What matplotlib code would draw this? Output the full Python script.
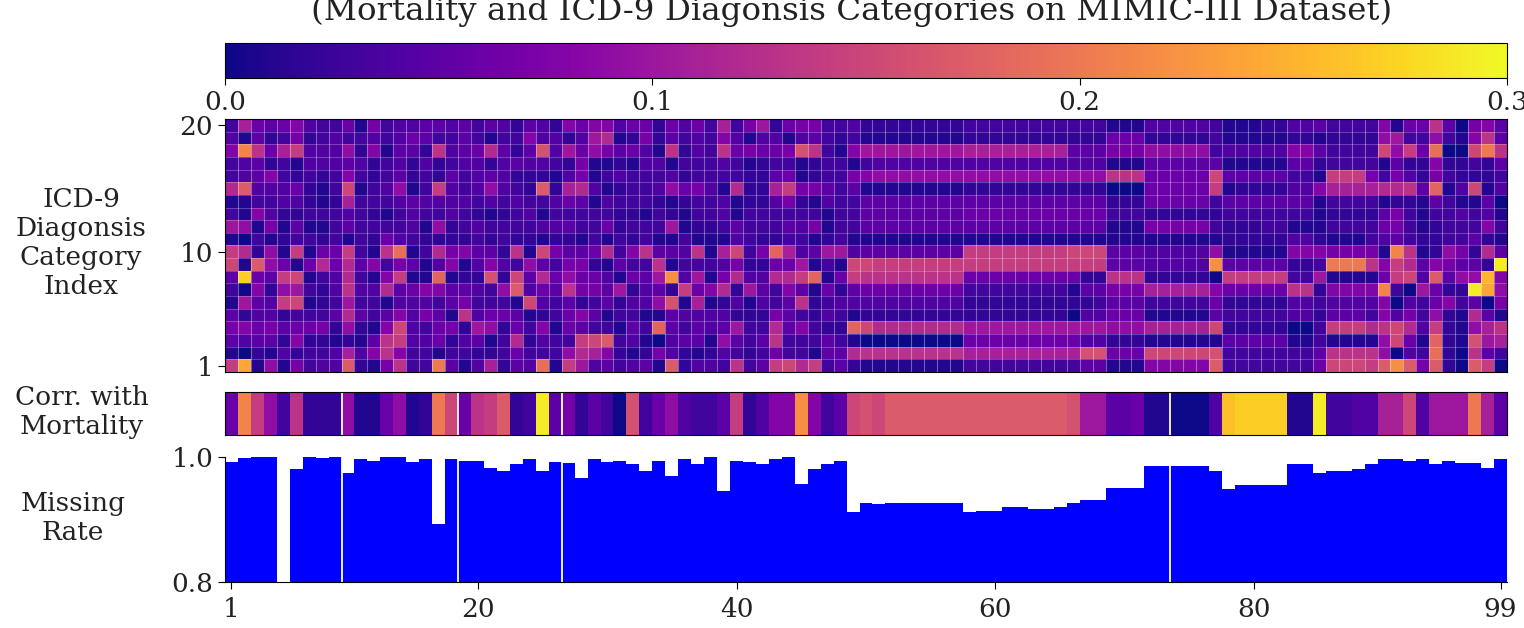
import numpy as np
import matplotlib
matplotlib.use("Agg")
import matplotlib.pyplot as plt
from matplotlib.ticker import FormatStrFormatter

plt.rcParams['font.family'] = 'DejaVu Serif'

W, H = 1524, 628

# Heat-map values, in hundredths, one list per category (columns 1..99)
row_20 = [3,11,6,5,6,8,4,3,3,6,1,7,3,4,4,5,5,4,5,3,5,4,2,5,4,
          2,8,6,8,8,4,6,6,2,6,4,6,3,11,3,7,10,2,6,7,7,3,3,4,2,
          2,2,2,2,2,2,2,3,3,3,3,3,3,3,3,3,3,3,1,1,1,4,4,4,4,4,
          3,1,1,1,2,2,4,4,5,3,3,3,3,8,1,6,6,13,5,0,7,8,5]
row_19 = [4,1,5,2,3,7,2,3,4,3,3,4,3,4,6,5,3,3,5,3,1,3,3,8,4,
          4,2,4,10,12,1,2,7,2,5,3,4,3,8,4,1,4,4,1,4,5,3,2,3,1,
          1,1,1,1,1,1,1,2,2,2,2,2,2,2,2,2,2,2,6,6,6,2,2,2,2,2,
          3,1,1,1,1,1,2,2,1,2,2,2,2,9,10,3,3,9,3,1,8,13,5]
row_18 = [8,21,13,6,11,14,4,4,4,9,2,8,1,5,5,2,13,4,5,6,12,5,2,5,16,
          4,10,6,9,7,5,6,4,1,13,2,4,3,13,6,7,6,6,7,16,13,3,1,8,10,
          10,10,10,10,10,10,10,11,11,11,11,11,11,11,11,5,5,5,7,7,7,9,9,9,9,9,
          3,4,4,4,4,4,8,8,5,3,3,3,3,15,9,14,6,19,0,0,15,20,13]
row_17 = [3,4,5,2,3,1,4,4,4,5,4,2,3,4,2,4,2,3,4,4,2,4,5,4,4,
          3,2,7,1,1,2,1,4,4,1,3,3,3,4,3,1,2,3,3,1,2,3,3,1,3,
          4,4,4,4,4,4,4,4,4,4,4,4,4,4,4,4,4,4,1,1,1,5,5,5,5,5,
          5,1,1,1,1,1,5,5,2,3,3,3,3,1,5,2,2,8,2,2,3,2,5]
row_16 = [3,4,5,8,3,2,3,2,3,8,3,2,3,5,2,3,2,5,3,4,5,4,2,2,2,
          1,4,7,1,3,4,3,3,3,4,2,3,3,3,3,2,2,5,6,1,2,3,3,7,8,
          9,9,9,9,9,9,9,9,9,9,9,9,9,9,9,9,9,9,13,13,13,6,6,6,6,6,
          15,5,5,5,5,5,3,3,1,14,14,14,7,3,7,4,2,7,3,2,2,2,3]
row_15 = [12,17,4,4,4,6,2,1,3,15,1,3,4,9,1,3,14,4,3,4,9,4,3,2,17,
          2,11,12,4,1,2,3,3,4,9,6,7,4,1,12,2,2,11,14,7,7,5,3,5,1,
          1,1,1,1,1,1,1,2,2,2,2,2,2,2,2,2,2,2,0,0,0,6,6,6,6,6,
          14,1,2,2,2,2,4,4,8,11,11,11,11,12,12,13,5,18,1,4,15,1,4]
row_14 = [1,1,3,3,4,4,2,1,2,11,3,3,3,4,5,4,4,4,4,3,4,3,4,3,3,
          4,6,5,1,4,3,3,3,2,1,2,3,3,4,1,2,2,4,7,2,1,4,3,3,5,
          5,5,5,5,5,5,5,5,5,5,5,5,5,5,5,5,5,5,2,2,2,6,6,6,6,6,
          3,5,5,5,5,5,5,5,1,3,3,3,3,1,2,2,1,5,3,1,1,5,0]
row_13 = [3,1,8,4,2,2,3,3,3,4,3,2,1,3,4,3,3,4,3,2,1,2,3,4,1,
          3,3,3,3,3,2,2,1,3,2,1,3,3,4,1,3,3,3,3,3,3,1,3,3,5,
          5,5,5,5,5,5,5,6,6,6,6,6,6,6,6,6,6,6,3,3,3,2,2,2,2,2,
          2,3,3,3,3,3,3,3,1,2,2,2,2,5,7,3,1,3,3,4,3,4,1]
row_12 = [10,9,1,7,1,5,1,1,3,5,3,3,3,3,4,1,9,2,3,4,3,3,3,3,4,
          4,5,3,3,6,2,3,3,3,10,1,2,2,3,5,3,3,3,5,4,7,1,3,3,5,
          5,5,5,5,5,5,5,5,5,5,5,5,5,5,5,5,5,5,1,1,1,7,7,7,7,7,
          3,2,2,2,3,3,1,1,1,3,3,3,3,6,7,3,1,2,3,3,3,8,3]
row_11 = [1,0,3,1,2,3,3,2,3,1,3,2,6,4,3,2,2,2,2,3,2,3,2,2,1,
          2,2,1,3,1,3,2,3,1,1,3,1,1,1,4,3,2,2,3,3,1,2,3,1,1,
          1,1,1,1,1,1,1,1,1,1,1,1,1,1,1,1,1,1,1,1,1,1,1,1,1,1,
          1,2,2,2,2,2,4,4,2,1,1,1,3,4,5,3,2,2,3,3,5,2,1]
row_10 = [14,12,2,9,1,14,1,6,6,14,3,1,13,19,1,3,12,7,8,5,5,2,13,1,15,
          7,5,5,6,12,3,8,13,5,5,4,13,1,11,15,3,7,18,11,4,5,10,10,4,5,
          5,5,5,5,5,5,5,14,14,14,14,14,14,14,14,15,15,15,5,5,5,4,4,4,4,4,
          9,1,1,1,1,1,8,8,8,7,7,7,7,1,21,13,1,2,9,7,2,12,5]
row_09 = [15,1,17,9,6,1,6,12,6,12,5,8,3,7,5,1,4,8,1,4,8,4,3,9,5,
          3,7,7,2,1,5,3,3,13,1,3,3,3,4,7,2,2,6,6,10,1,3,1,15,15,
          14,14,14,14,14,14,14,14,14,14,14,14,14,14,14,14,14,14,5,5,5,4,4,4,4,4,
          22,5,5,5,5,5,2,2,3,20,20,20,13,8,14,12,5,8,7,5,5,2,29]
row_08 = [5,27,6,5,14,15,1,3,4,12,3,1,8,14,1,1,18,1,2,2,16,2,15,5,12,
          6,9,6,6,4,1,6,5,10,22,4,10,1,7,12,4,4,12,12,14,18,1,6,14,13,
          13,13,13,13,13,13,13,6,6,6,6,6,6,6,6,6,2,2,13,13,13,2,2,2,2,2,
          0,14,14,14,14,14,3,3,10,1,1,1,1,6,14,15,4,17,5,9,9,25,8]
row_07 = [3,0,8,2,9,10,3,2,4,13,4,4,12,5,6,8,8,5,5,4,3,9,17,4,6,
          5,13,7,7,5,10,2,4,5,2,14,6,8,12,2,10,5,3,8,5,1,6,2,5,6,
          6,6,6,6,6,6,6,3,3,3,3,3,3,3,3,1,5,5,7,7,7,11,11,11,11,11,
          8,6,6,6,6,6,13,13,2,8,8,8,8,21,3,0,10,6,2,2,29,24,9]
row_06 = [1,10,5,4,14,15,1,2,3,10,3,3,1,4,4,4,3,5,7,3,3,3,1,15,4,
          3,5,2,3,5,2,4,4,9,16,1,11,1,2,4,1,4,3,5,13,2,3,4,4,4,
          4,4,4,4,4,4,4,2,2,2,2,2,2,2,2,2,2,3,5,5,5,3,3,3,3,3,
          6,2,2,2,2,2,4,4,3,4,4,4,4,8,0,4,3,6,8,3,5,0,7]
row_05 = [5,2,4,4,2,3,3,3,5,12,5,3,5,8,4,7,5,1,13,4,6,6,5,1,2,
          3,6,8,5,1,3,3,1,1,5,4,4,4,4,2,2,2,7,5,3,2,4,3,1,2,
          2,2,2,2,2,2,2,2,2,2,2,2,2,2,2,0,4,4,6,6,6,1,1,1,1,1,
          5,3,3,3,3,3,4,4,2,5,5,5,3,8,4,7,3,9,2,1,12,5,1]
row_04 = [7,8,6,7,5,6,6,7,2,9,2,1,8,15,4,3,6,7,2,10,9,2,6,3,8,
          1,6,5,3,3,1,5,3,18,5,3,5,4,5,10,3,3,12,5,8,3,2,2,18,15,
          12,12,12,12,12,12,12,10,10,10,10,10,10,10,10,10,10,10,9,9,9,11,11,11,11,11,
          15,2,2,2,2,2,0,0,3,14,14,14,12,13,15,12,4,14,2,1,9,11,13]
row_03 = [5,4,5,5,2,8,2,2,1,2,1,5,13,14,4,4,6,2,4,5,1,3,12,2,4,
          3,3,14,15,17,3,4,1,0,4,5,5,1,9,5,3,5,13,3,3,3,5,3,1,0,
          0,0,0,0,0,0,0,6,6,6,6,6,6,6,6,6,4,4,2,2,2,1,1,1,1,1,
          1,5,5,5,5,5,1,1,3,1,1,1,1,9,15,6,1,18,2,1,16,10,11]
row_02 = [1,0,2,1,4,2,3,3,4,11,4,8,13,8,3,3,1,3,3,2,2,3,6,3,3,
          3,9,12,11,8,2,1,2,7,4,2,1,2,4,3,2,3,6,3,3,1,5,5,12,13,
          13,13,13,13,13,13,13,11,11,11,11,11,11,11,11,11,16,16,6,6,6,15,15,15,15,15,
          16,3,3,3,3,3,3,3,5,13,13,13,13,9,0,4,3,19,2,0,13,5,3]
row_01 = [14,24,1,9,1,7,3,4,4,17,2,1,7,13,3,3,20,5,1,4,11,2,5,4,19,
          1,14,10,4,5,3,4,5,1,17,2,4,4,3,13,3,5,14,15,12,14,3,5,2,1,
          1,1,1,1,1,1,1,3,3,3,3,3,3,3,3,3,5,5,1,1,1,8,8,8,8,8,
          17,3,3,3,3,3,3,3,6,15,15,15,14,17,22,17,7,17,2,0,17,14,0]

# Correlation with mortality, in hundredths
corr = [6,21,14,9,3,13,2,2,2,9,1,1,6,9,1,2,20,15,6,13,14,17,2,3,29,
        5,7,2,5,3,0,16,3,6,9,4,3,3,5,14,2,4,8,8,22,8,3,5,15,
        16,15,17,17,17,17,17, 17,17,17,17,17, 17,17,17,17,16,10,10,5,5,6,1,1,0,0,0,
        4,26,27,27,27,27,1,1,29,3,3,4,4,11,11,15,4,10,10,10,20,11,5]

# Missing rate per variable (variable 5 is below the visible range)
missing = [.992,.998,1,1,np.nan,.98,1,.998,1,.975,.997,.994,1,1,.992,.997,.892,.997,
           .994,.994,.983,.977,.988,.997,.977,.992,.991,.966,.997,.992,.994,.988,.977,
           .994,.969,.997,.988,1,.946,.994,.992,.988,.997,1,.957,.98,.988,.994,.912,
           .926,.924,.926,.926,.926,.926,.926,.926,.912,.914,.914,.920,.920,.917,.917,
           .920,.926,.931,.931,.951,.951,.951,.986,.986,.986,.986,.986,.977,.948,.955,
           .955,.955,.955,.988,.988,.975,.977,.977,.98,.988,.997,.997,.994,.997,.988,
           .994,.991,.991,.983,.997]

# Variables after which a white gap appears
gaps_after = [9, 18, 26, 73]

x_ticks = [1, 20, 40, 60, 80, 99]
y_ticks = [1, 10, 20]
cbar_ticks = [0.0, 0.1, 0.2, 0.3]
miss_ticks = [0.8, 1.0]
title = "(Mortality and ICD-9 Diagonsis Categories on MIMIC-III Dataset)"

heat = np.array([row_01, row_02, row_03, row_04, row_05, row_06, row_07, row_08, row_09, row_10,
                 row_11, row_12, row_13, row_14, row_15, row_16, row_17, row_18, row_19, row_20]) / 100
corr_v = np.array(corr) / 100
miss_v = np.array(missing)

FS = 19
TEXT = '#222222'
fig = plt.figure(figsize=(W / 100, H / 100), dpi=100)

def axes_px(x0, y0, x1, y1):
    return fig.add_axes([x0 / W, 1 - y1 / H, (x1 - x0) / W, (y1 - y0) / H])

X0, X1 = 225, 1507
cax = axes_px(X0, 43, X1, 78)
ax_h = axes_px(X0, 119, X1, 372)
ax_c = axes_px(X0, 392, X1, 435)
ax_m = axes_px(X0, 457, X1, 582)

xe = np.arange(0.5, 100.5)
ye = np.arange(0.5, 21.5)
norm = plt.Normalize(0, 0.3)
pm = ax_h.pcolormesh(xe, ye, heat, cmap='plasma', norm=norm)
ax_h.vlines(xe[1:-1], ye[0], ye[-1], color=(1, 1, 1, 0.36), lw=0.8)
ax_h.hlines(ye[1:-1], xe[0], xe[-1], color=(1, 1, 1, 0.24), lw=0.8)
ax_h.set_yticks(y_ticks)
ax_h.set_xticks([])
ax_h.tick_params(labelsize=FS, length=5, labelcolor=TEXT)

cb = fig.colorbar(pm, cax=cax, orientation='horizontal')
cb.set_ticks(cbar_ticks)
cb.ax.tick_params(labelsize=FS, length=5, pad=4, labelcolor=TEXT)
cb.ax.xaxis.set_major_formatter(FormatStrFormatter('%.1f'))

ax_c.pcolormesh(xe, [0, 1], corr_v[None, :], cmap='plasma', norm=norm)
ax_c.set_xticks([])
ax_c.set_yticks([])

xs = np.arange(1, 100)
ax_m.bar(xs, miss_v, width=1.0, color='#0000ff', linewidth=0)
ax_m.set_xlim(0.5, 99.5)
ax_m.set_ylim(0.8, 1.0)
ax_m.set_xticks(x_ticks)
ax_m.set_yticks(miss_ticks)
ax_m.tick_params(labelsize=FS, length=5, labelcolor=TEXT)
ax_m.tick_params(axis='x', pad=6)
ax_m.spines['top'].set_visible(False)
ax_m.spines['right'].set_visible(False)

for g in gaps_after:
    ax_c.axvline(g + 0.5, color='white', lw=1.3)
    ax_m.axvline(g + 0.5, color='white', lw=1.3)

def left_label(text, x, y):
    fig.text(x / W, 1 - y / H, text, ha='center', va='center', fontsize=FS,
             color=TEXT, linespacing=1.2)

left_label("ICD-9\nDiagonsis\nCategory\nIndex", 81, 243)
left_label("Corr. with\nMortality", 82, 412)
left_label("Missing\nRate", 73, 518)

fig.text(852 / W, 1 - 20 / H, title, ha='center', va='baseline', fontsize=23.4, color=TEXT)

fig.savefig('out.png', dpi=100)
